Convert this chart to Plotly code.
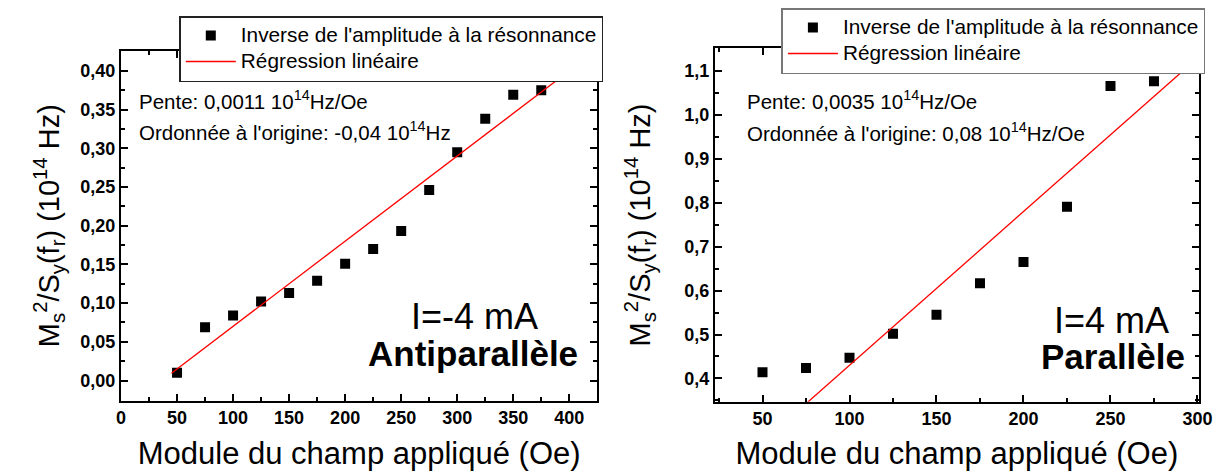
import numpy as np
import plotly.graph_objects as go

# ---- data -------------------------------------------------------------
# Antiparallel configuration, I = -4 mA
field_ap = [50, 75, 100, 125, 150, 175, 200, 225, 250, 275, 300, 325, 350, 375]
inv_amp_ap = [0.010, 0.069, 0.084, 0.102, 0.113, 0.129, 0.151, 0.170, 0.193,
              0.246, 0.295, 0.338, 0.369, 0.375]
slope_ap, intercept_ap = 0.0011, -0.04
fit_span_ap = [45, 410]

# Parallel configuration, I = 4 mA
field_p = [50, 75, 100, 125, 150, 175, 200, 225, 250, 275]
inv_amp_p = [0.414, 0.424, 0.447, 0.502, 0.545, 0.617, 0.665, 0.791, 1.066, 1.077]
slope_p, intercept_p = 0.0035, 0.08
fit_span_p = [45, 295]

W, H = 1213, 471
FONT = "Liberation Sans, Arial, Helvetica, sans-serif"
FIT_COLOR = "#ff0000"


def px_x(v):
    return v / W


def px_y(v):
    return 1 - v / H


def big(text, size=20.8):
    # legend rows are spaced from the legend font; entries use a larger face
    return f"<span style='font-size:{size}px'>{text}</span>"


fig = go.Figure()

name_pts = big("Inverse de l'amplitude à la résonnance")
name_fit = big("Régression linéaire")

# left panel
fig.add_trace(go.Scatter(
    x=field_ap, y=inv_amp_ap, mode="markers", name=name_pts,
    marker=dict(symbol="square", size=10, color="black"),
    xaxis="x", yaxis="y", legend="legend"))
xf = np.array(fit_span_ap, dtype=float)
fig.add_trace(go.Scatter(
    x=xf, y=slope_ap * xf + intercept_ap, mode="lines", name=name_fit,
    line=dict(color=FIT_COLOR, width=1.3),
    xaxis="x", yaxis="y", legend="legend"))

# right panel
fig.add_trace(go.Scatter(
    x=field_p, y=inv_amp_p, mode="markers", name=name_pts,
    marker=dict(symbol="square", size=10, color="black"),
    xaxis="x2", yaxis="y2", legend="legend2"))
xf = np.array(fit_span_p, dtype=float)
fig.add_trace(go.Scatter(
    x=xf, y=slope_p * xf + intercept_p, mode="lines", name=name_fit,
    line=dict(color=FIT_COLOR, width=1.3),
    xaxis="x2", yaxis="y2", legend="legend2"))

axis_common = dict(
    showline=True, linewidth=2, linecolor="black", mirror="allticks",
    ticks="inside", ticklen=7, tickwidth=1.5, tickcolor="black",
    showgrid=False, zeroline=False,
    tickfont=dict(family=FONT, size=18, color="black", weight="bold"),
)
minor_common = dict(ticks="inside", ticklen=4, tickwidth=1.5, tickcolor="black", showgrid=False)

xtitle = "Module du champ appliqué (Oe)"
ytitle = "M<sub>s</sub><sup>2</sup>/S<sub>y</sub>(f<sub>r</sub>) (10<sup>14</sup> Hz)"

legend_common = dict(
    xanchor="left", yanchor="top", bgcolor="white", borderwidth=1.5,
    font=dict(family=FONT, size=17.7, color="black"),
    itemwidth=50, tracegroupgap=0,
)

fig.update_layout(
    width=W, height=H,
    margin=dict(l=0, r=0, t=0, b=0, autoexpand=False),
    paper_bgcolor="white", plot_bgcolor="white",
    separators=", ",
    font=dict(family=FONT, color="black"),
    xaxis=dict(
        axis_common, domain=[px_x(121), px_x(597.3)], range=[0, 425],
        tick0=0, dtick=50, anchor="y",
        minor=dict(minor_common, dtick=25),
        title=dict(text=xtitle, font=dict(size=31), standoff=15),
    ),
    yaxis=dict(
        axis_common, domain=[px_y(400.7), px_y(50.7)], range=[-0.026, 0.426],
        tick0=0, dtick=0.05, tickformat=".2f", anchor="x",
        minor=dict(minor_common, dtick=0.025),
        title=dict(text=ytitle, font=dict(size=29), standoff=12),
    ),
    xaxis2=dict(
        axis_common, domain=[px_x(715), px_x(1198.7)], range=[22.7, 300.7],
        tick0=0, dtick=50, anchor="y2",
        minor=dict(minor_common, dtick=25),
        title=dict(text=xtitle, font=dict(size=31), standoff=15),
    ),
    yaxis2=dict(
        axis_common, domain=[px_y(401.7), px_y(48.3)], range=[0.347, 1.152],
        tick0=0, dtick=0.1, tickformat=".1f", anchor="x2",
        minor=dict(minor_common, dtick=0.05),
        title=dict(text=ytitle, font=dict(size=29), standoff=25),
    ),
    legend=dict(legend_common, x=px_x(179.3), y=px_y(16), bordercolor="#222"),
    legend2=dict(legend_common, x=px_x(781.4), y=px_y(8), bordercolor="#777"),
)

notes = [
    # left panel
    dict(x=px_x(136.5), y=px_y(100), text="Pente: 0,0011 10<sup>14</sup>Hz/Oe",
         xanchor="left", size=20.5),
    dict(x=px_x(136.5), y=px_y(131), text="Ordonnée à l'origine: -0,04 10<sup>14</sup>Hz",
         xanchor="left", size=20.5),
    dict(x=px_x(474.9), y=px_y(316), text="I=-4 mA", xanchor="center", size=36),
    dict(x=px_x(472.5), y=px_y(353), text="<b>Antiparallèle</b>", xanchor="center", size=35),
    # right panel
    dict(x=px_x(744.5), y=px_y(100), text="Pente: 0,0035 10<sup>14</sup>Hz/Oe",
         xanchor="left", size=20.5),
    dict(x=px_x(744.5), y=px_y(131.7), text="Ordonnée à l'origine: 0,08 10<sup>14</sup>Hz/Oe",
         xanchor="left", size=20.5),
    dict(x=px_x(1111.5), y=px_y(320), text="I=4 mA", xanchor="center", size=36),
    dict(x=px_x(1112.6), y=px_y(356.7), text="<b>Parallèle</b>", xanchor="center", size=35),
]
for n in notes:
    fig.add_annotation(
        x=n["x"], y=n["y"], xref="paper", yref="paper", text=n["text"],
        xanchor=n["xanchor"], yanchor="middle", showarrow=False,
        font=dict(family=FONT, size=n["size"], color="black"),
    )

fig.write_html("out.html")
